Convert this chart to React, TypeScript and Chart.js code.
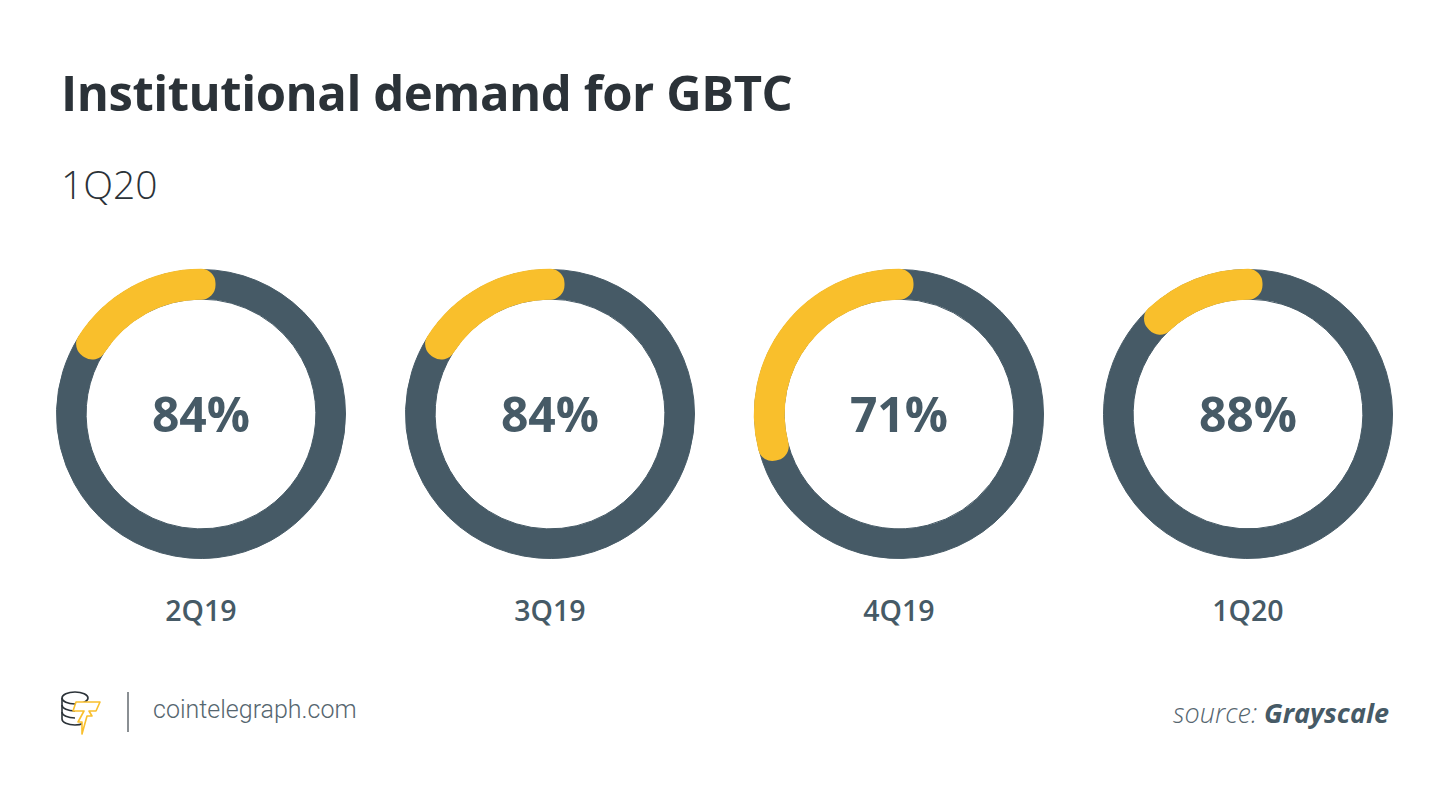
import React, { useEffect, useRef } from "react";
import { Chart, registerables } from "chart.js";

Chart.register(...registerables);

// ---- data ----
const categories = ["2Q19", "3Q19", "4Q19", "1Q20"];
const institutionalShare = [84, 84, 71, 88];
const otherShare = [16, 16, 29, 12];
const centerLabels = ["84%", "84%", "71%", "88%"];

const title = "Institutional demand for GBTC";
const subtitle = "1Q20";
const sourceName = "Grayscale";

// ---- style ----
const DARK = "#465A66";
const YELLOW = "#F9BF2C";
const TITLE_COLOR = "#2B3238";
const SIZE = 300;
const CENTER_XS = [201, 550, 899, 1248];
const CENTER_Y = 413.5;

function Ring({ index }: { index: number }) {
  const baseRef = useRef<HTMLCanvasElement | null>(null);
  const topRef = useRef<HTMLCanvasElement | null>(null);

  useEffect(() => {
    const common: any = {
      responsive: false,
      animation: false,
      events: [],
      layout: { padding: 0 },
      plugins: { legend: { display: false }, tooltip: { enabled: false } },
    };
    const base = new Chart(baseRef.current as HTMLCanvasElement, {
      type: "doughnut",
      data: {
        labels: ["Institutional", "Other"],
        datasets: [
          {
            data: [institutionalShare[index], otherShare[index]],
            backgroundColor: [DARK, DARK],
            borderColor: DARK,
            borderWidth: 1,
          },
        ],
      },
      options: { ...common, radius: 144.5, cutout: "79.5%" },
    });
    const top = new Chart(topRef.current as HTMLCanvasElement, {
      type: "doughnut",
      data: {
        labels: ["Institutional", "Other"],
        datasets: [
          {
            data: [institutionalShare[index], otherShare[index]],
            backgroundColor: ["rgba(0,0,0,0)", YELLOW],
            borderColor: ["rgba(0,0,0,0)", YELLOW],
            borderWidth: [0, 29],
            borderJoinStyle: "round",
          } as any,
        ],
      },
      options: { ...common, radius: 130.75, cutout: ((128.75 / 130.75) * 100).toFixed(3) + "%" },
    });
    return () => {
      base.destroy();
      top.destroy();
    };
  }, [index]);

  const cx = CENTER_XS[index];
  return (
    <>
      <div
        style={{
          position: "absolute",
          left: cx - SIZE / 2,
          top: CENTER_Y - SIZE / 2,
          width: SIZE,
          height: SIZE,
        }}
      >
        <canvas ref={baseRef} width={SIZE} height={SIZE} style={{ position: "absolute", left: 0, top: 0 }} />
        <canvas ref={topRef} width={SIZE} height={SIZE} style={{ position: "absolute", left: 0, top: 0 }} />
      </div>
      <div
        style={{
          position: "absolute",
          left: cx - 100,
          width: 200,
          top: 433 - 0.888 * 48,
          fontFamily: "'Open Sans'",
          fontWeight: 700,
          fontSize: 48,
          lineHeight: "48px",
          color: DARK,
          textAlign: "center",
        }}
      >
        {centerLabels[index]}
      </div>
      <div
        style={{
          position: "absolute",
          left: cx - 100,
          width: 200,
          top: 621.7 - 0.888 * 28.5,
          fontFamily: "'Open Sans'",
          fontWeight: 600,
          fontSize: 28.5,
          lineHeight: "28.5px",
          color: DARK,
          textAlign: "center",
        }}
      >
        {categories[index]}
      </div>
    </>
  );
}

function Logo() {
  return (
    <svg width="50" height="50" viewBox="0 0 50 50" style={{ position: "absolute", left: 58, top: 688 }}>
      <g fill="none" stroke="#2B3238" strokeWidth="1.6">
        <ellipse cx="17" cy="10" rx="13" ry="6" />
        <path d="M4 10 v7 c0 3.5 6 6 13 6" />
        <path d="M4 17 v7 c0 3.5 6 6 13 6" />
        <path d="M4 24 v7 c0 3.5 6 6 13 6 c3 0 6 -0.6 8 -1.5" />
      </g>
      <path
        d="M18 14 L42 14 L38 23 L31 23 L34 28 L29 28 L24 46 L24 34 L20 34 L26 23 L15 23 Z"
        fill="#fff"
        stroke="#F9BF2C"
        strokeWidth="1.6"
        strokeLinejoin="round"
      />
    </svg>
  );
}

export default function App() {
  useEffect(() => {
    document.body.style.margin = "0";
    document.body.style.background = "#ffffff";
  }, []);

  return (
    <div style={{ position: "relative", width: 1450, height: 793, background: "#fff", overflow: "hidden" }}>
      <div
        style={{
          position: "absolute",
          left: 61,
          top: 111.5 - 0.888 * 49,
          fontFamily: "'Open Sans'",
          fontWeight: 700,
          fontSize: 49,
          lineHeight: "49px",
          letterSpacing: "-0.45px",
          color: TITLE_COLOR,
          whiteSpace: "nowrap",
        }}
      >
        {title}
      </div>
      <div
        style={{
          position: "absolute",
          left: 61,
          top: 198.5 - 0.888 * 39,
          fontFamily: "'Open Sans'",
          fontWeight: 300,
          fontSize: 39,
          lineHeight: "39px",
          color: TITLE_COLOR,
          whiteSpace: "nowrap",
        }}
      >
        {subtitle}
      </div>

      {categories.map((_, i) => (
        <Ring key={i} index={i} />
      ))}

      <Logo />
      <div style={{ position: "absolute", left: 127, top: 692, width: 2, height: 40, background: "#8A8F93" }} />
      <div
        style={{
          position: "absolute",
          left: 153,
          top: 720 - 0.93 * 25,
          fontFamily: "Roboto",
          fontWeight: 300,
          fontSize: 25,
          lineHeight: "25px",
          color: "#56666F",
          whiteSpace: "nowrap",
        }}
      >
        cointelegraph.com
      </div>
      <div
        style={{
          position: "absolute",
          right: 1450 - 1389,
          top: 722.7 - 0.888 * 27,
          fontFamily: "'Open Sans'",
          fontStyle: "italic",
          fontSize: 27,
          lineHeight: "27px",
          whiteSpace: "nowrap",
        }}
      >
        <span style={{ fontWeight: 300, color: "#56666F" }}>source: </span>
        <span style={{ fontWeight: 700, color: DARK }}>{sourceName}</span>
      </div>
    </div>
  );
}
